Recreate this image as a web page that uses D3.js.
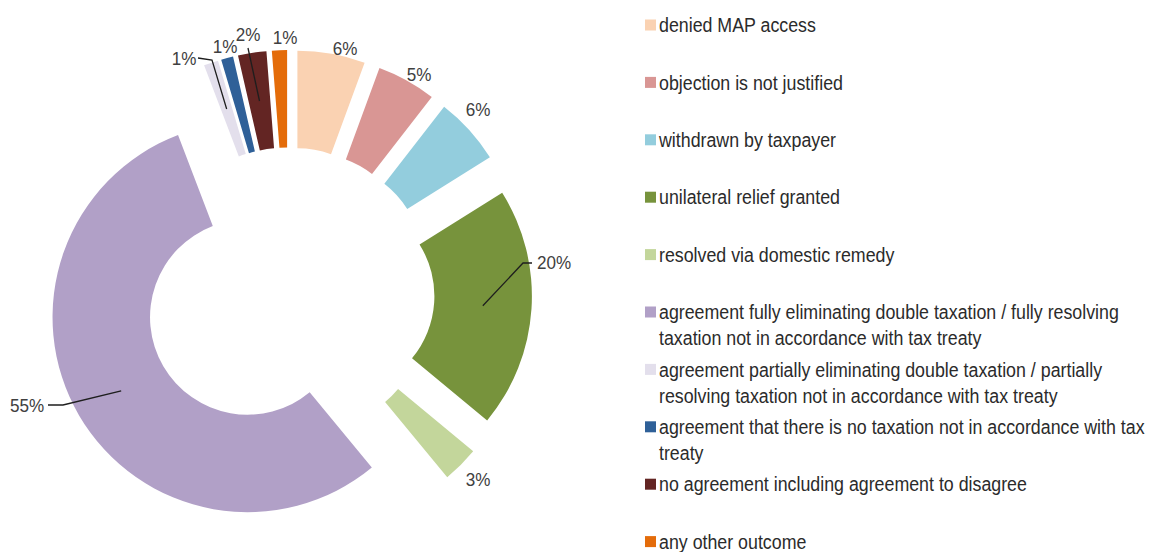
<!DOCTYPE html>
<html>
<head>
<meta charset="utf-8">
<script src="https://cdnjs.cloudflare.com/ajax/libs/d3/7.8.5/d3.min.js"></script>
<style>
body { margin: 0; background: #fff; }
text { font-family: "Liberation Sans", Arial, sans-serif; }
</style>
</head>
<body>
<script>
/*
MAP case outcomes - exploded doughnut
*/
var categories = [
    "denied MAP access",
    "objection is not justified",
    "withdrawn by taxpayer",
    "unilateral relief granted",
    "resolved via domestic remedy",
    "agreement fully eliminating double taxation / fully resolving taxation not in accordance with tax treaty",
    "agreement partially eliminating double taxation / partially resolving taxation not in accordance with tax treaty",
    "agreement that there is no taxation not in accordance with tax treaty",
    "no agreement including agreement to disagree",
    "any other outcome"
];

// legend wrapping as in the source
var legendLines = [
    ["denied MAP access"],
    ["objection is not justified"],
    ["withdrawn by taxpayer"],
    ["unilateral relief granted"],
    ["resolved via domestic remedy"],
    ["agreement fully eliminating double taxation / fully resolving", "taxation not in accordance with tax treaty"],
    ["agreement partially eliminating double taxation / partially", "resolving taxation not in accordance with tax treaty"],
    ["agreement that there is no taxation not in accordance with tax", "treaty"],
    ["no agreement including agreement to disagree"],
    ["any other outcome"]
];

var values = [5.6, 4.9, 5.6, 19.9, 3.0, 55.2, 1.2, 1.0, 2.35, 1.25];
var pctLabels = ["6%", "5%", "6%", "20%", "3%", "55%", "1%", "1%", "2%", "1%"];

var colors = ["#fad2b2", "#d99694", "#93cddd", "#77933c", "#c3d69b",
              "#b1a0c7", "#e3dfec", "#2f6098", "#632523", "#e46c0a"];

var width = 1165,
    height = 552;

var cx = 289, cy = 293,
    outerR = 195, innerR = 97.5,
    explode = 48;

// label centres (text), leader lines drawn to slice centroids
var labelPos = [[345, 49], [419, 75], [478, 110], [554, 263], [478, 480],
                [27, 406], [184, 59], [225, 47], [248, 35], [285, 38]];
var leaders = {
    3: [[-22, 0], [-31, 0]],
    5: [[21, -1], [36, -1]],
    6: [[14, -1], [28, 1]],
    8: [[0, 13]]
};

var svg = d3.select("body").append("svg")
    .attr("width", width)
    .attr("height", height);

svg.append("rect")
    .attr("width", width)
    .attr("height", height)
    .attr("fill", "#fff");

var pie = d3.pie()
    .sort(null)
    .value(function(d) { return d; });

var arc = d3.arc()
    .innerRadius(innerR)
    .outerRadius(outerR);

var arcs = pie(values);

function offset(d) {
    var a = (d.startAngle + d.endAngle) / 2;
    return [Math.sin(a) * explode, -Math.cos(a) * explode];
}

var chart = svg.append("g")
    .attr("transform", "translate(" + cx + "," + cy + ")");

chart.selectAll("path")
    .data(arcs)
    .enter().append("path")
    .attr("fill", function(d, i) { return colors[i]; })
    .attr("transform", function(d) {
        var o = offset(d);
        return "translate(" + o[0] + "," + o[1] + ")";
    })
    .attr("d", arc);

// leader lines
arcs.forEach(function(d, i) {
    if (!leaders[i]) return;
    var o = offset(d),
        c = arc.centroid(d),
        p = labelPos[i];
    var pts = leaders[i].map(function(q) { return [p[0] + q[0], p[1] + q[1]]; });
    pts.push([cx + o[0] + c[0], cy + o[1] + c[1]]);
    svg.append("path")
        .attr("d", d3.line()(pts))
        .attr("fill", "none")
        .attr("stroke", "#1e1e1e")
        .attr("stroke-width", 1.3);
});

svg.append("g")
    .selectAll("text")
    .data(arcs)
    .enter().append("text")
    .attr("transform", function(d, i) {
        return "translate(" + labelPos[i][0] + "," + labelPos[i][1] + ") scale(0.95,1)";
    })
    .attr("text-anchor", "middle")
    .attr("dy", "0.36em")
    .attr("font-size", 18)
    .attr("fill", "#404040")
    .text(function(d, i) { return pctLabels[i]; });

// legend
var legendY = d3.scaleLinear()
    .domain([0, categories.length - 1])
    .range([25, 541.6]);

var legend = svg.append("g")
    .selectAll("g")
    .data(categories)
    .enter().append("g")
    .attr("transform", function(d, i) { return "translate(645," + legendY(i) + ")"; });

legend.append("rect")
    .attr("x", 0)
    .attr("y", -5.5)
    .attr("width", 11)
    .attr("height", 11)
    .attr("fill", function(d, i) { return colors[i]; });

legend.each(function(d, i) {
    var g = d3.select(this);
    legendLines[i].forEach(function(line, j) {
        g.append("text")
            .attr("transform", "translate(14," + (j * 26) + ") scale(0.89,1)")
            .attr("dy", "0.36em")
            .attr("font-size", 20)
            .attr("fill", "#2b2b2b")
            .text(line);
    });
});
</script>
</body>
</html>
